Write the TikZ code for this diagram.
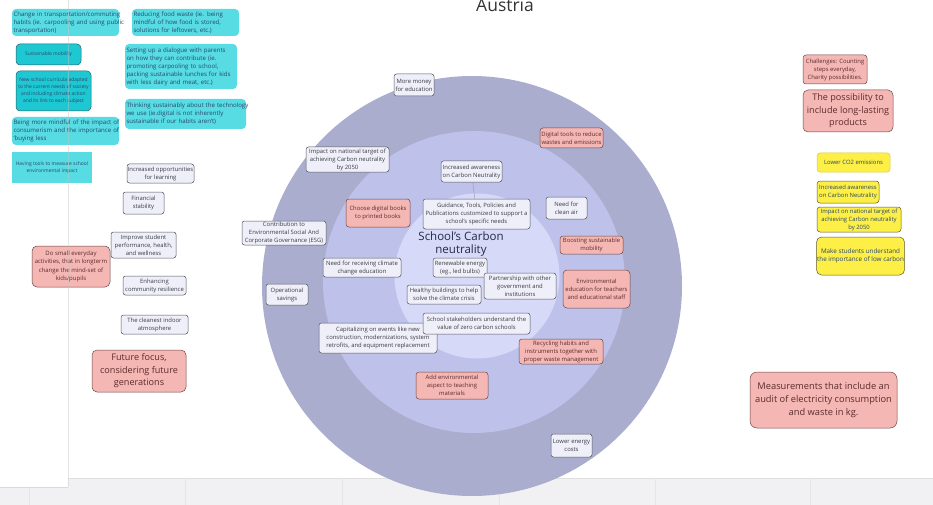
\documentclass[tikz,border=0pt]{standalone}
\usepackage{fontspec}
\setmainfont{Open Sans}
\definecolor{outerc}{HTML}{AAADCE}
\definecolor{midc}{HTML}{BEC2EA}
\definecolor{innerc}{HTML}{D6D9F8}
\definecolor{gfill}{HTML}{EEEFF8}
\definecolor{gline}{HTML}{555662}
\definecolor{gtext}{HTML}{3C3C44}
\definecolor{pfill}{HTML}{F5B7B4}
\definecolor{pline}{HTML}{6A4646}
\definecolor{ptext}{HTML}{5A2C2C}
\definecolor{cfill}{HTML}{56DCE2}
\definecolor{cdark}{HTML}{1EC8D2}
\definecolor{cline}{HTML}{2A6068}
\definecolor{ctext}{HTML}{28476E}
\definecolor{yfill}{HTML}{FDEF45}
\definecolor{yline}{HTML}{5E5A22}
\definecolor{navy}{HTML}{232B45}
\definecolor{barc}{HTML}{F1F1F3}
\newcommand{\lftlines}[1]{\begin{tabular}{@{}l@{}}#1\end{tabular}}
\tikzset{
  sz/.style 2 args={minimum width=#1pt, minimum height=#2pt},
  base/.style={inner sep=0.6pt, align=center, font=\fontsize{5.9}{8}\selectfont},
  gbox/.style={base, rounded corners=2.5pt, draw=gline, line width=0.5pt, fill=gfill, text=gtext},
  pbox/.style={base, rounded corners=3pt, draw=pline, line width=0.5pt, fill=pfill, text=ptext},
  bigp/.style={pbox, rounded corners=5pt, font=\fontsize{9.1}{12.5}\selectfont},
  cbox/.style={base, rounded corners=4pt, fill=cfill, text=ctext, align=left, inner xsep=1.2pt, font=\fontsize{6.1}{8}\selectfont},
  cdbox/.style={base, rounded corners=4pt, draw=cline, line width=0.5pt, fill=cdark, text=ctext, font=\fontsize{4.95}{7}\selectfont},
  ybox/.style={base, rounded corners=3pt, draw=yline, line width=0.5pt, fill=yfill, text=ctext}
}
\begin{document}
\begin{tikzpicture}[x=1pt,y=-1pt]
\useasboundingbox (0,0) rectangle (933,505);
% bottom bar
\fill[barc] (0,478) rectangle (933,505);
\draw[gray!25, line width=0.5pt] (0,478) -- (933,478);
\foreach \xx in {29,185,342,499,655,810} \draw[gray!20, line width=0.4pt] (\xx,478) -- (\xx,505);
% left panel
\fill[white] (0,0) rectangle (68,487);
\draw[gray!30, line width=0.5pt] (68,487) -- (0,487);
% title
\node[font=\fontsize{17.5}{18}\selectfont, text=black!80, anchor=base, inner sep=0pt] (title) at (505,12) {Austria};
% circles
\node[circle, fill=outerc, minimum size=420pt, inner sep=0pt] (outer) at (472,286) {};
\node[circle, fill=midc, minimum size=302pt, inner sep=0pt] (middle) at (474,282) {};
\node[circle, fill=innerc, minimum size=165pt, inner sep=0pt] (inner) at (477,276) {};
% cyan boxes
\node[cbox, sz={107}{27}, text width=104pt] (c1) at (65.5,22.5) {\lftlines{Change in transportation/commuting\\habits (ie. carpooling and using public\\transportation)}};
\node[cdbox, sz={65}{21}] (c2) at (48.5,54.5) {Sustainable mobility};
\node[cdbox, sz={75}{40}] (c3) at (53.5,91) {New school curricula adapted\\to the current needs of society\\and including climate action\\and its link to each subject};
\node[cbox, sz={107}{28}, text width=104pt] (c4) at (65.5,131) {\lftlines{Being more mindful of the impact of\\consumerism and the importance of\\`buying less}};
\node[base, fill=cfill, text=ctext, sz={80}{31}, font=\fontsize{4.95}{7}\selectfont] (c5) at (52,167.5) {Having tools to measure school\\environmental impact};
\node[cbox, sz={107}{27}, text width=104pt] (c6) at (185.5,22.5) {\lftlines{Reducing food waste (ie. being\\mindful of how food is stored,\\solutions for leftovers, etc.)}};
\node[cbox, sz={112}{45}, text width=109pt] (c7) at (181,66.5) {\lftlines{Setting up a dialogue with parents\\on how they can contribute (ie.\\promoting carpooling to school,\\packing sustainable lunches for kids\\with less dairy and meat, etc.)}};
\node[cbox, sz={121}{30}, text width=118pt] (c8) at (185.5,114) {\lftlines{Thinking sustainably about the technology\\we use (ie.digital is not inherently\\sustainable if our habits aren't)}};
% left gray / pink
\node[gbox, sz={67}{19}] (g9) at (160.5,173.5) {Increased opportunities\\for learning};
\node[gbox, sz={41}{22}] (g10) at (143.5,203) {Financial\\stability};
\node[gbox, sz={65}{26}] (g11) at (143.5,245) {Improve student\\performance, health,\\and wellness};
\node[pbox, sz={78}{41}, rounded corners=5pt, font=\fontsize{6}{8.2}\selectfont] (p12) at (71,266.5) {Do small everyday\\activities, that in longterm\\change the mind-set of\\kids/pupils};
\node[gbox, sz={63}{19}] (g13) at (154.5,285.5) {Enhancing\\community resilience};
\node[gbox, sz={67}{19}] (g14) at (154.5,324.5) {The cleanest indoor\\atmosphere};
\node[bigp, sz={94}{42}] (p15) at (139,371) {Future focus,\\considering future\\generations};
% circle nodes
\node[gbox, sz={40}{22}] (g16) at (414,85) {More money\\for education};
\node[gbox, sz={83}{25}] (g17) at (347.5,159.5) {Impact on national target of\\achieving Carbon neutrality\\by 2050};
\node[pbox, sz={64}{28}] (p18) at (378,213) {Choose digital books\\to printed books};
\node[gbox, sz={84}{24}] (g19) at (284,233) {Contribution to\\Environmental Social And\\Corporate Governance (ESG)};
\node[gbox, sz={61}{21}] (g20) at (471.5,171.5) {Increased awareness\\on Carbon Neutrality};
\node[gbox, sz={107}{30}] (g21) at (476.5,214) {Guidance, Tools, Policies and\\Publications customized to support a\\school's specific needs};
\draw[gline!60, line width=0.4pt] (g20) -- (g21);
\node[font=\fontsize{11.5}{13}\selectfont, text=navy, align=center, inner sep=0pt] (t22) at (461,244) {School's Carbon\\neutrality};
\node[gbox, sz={41}{22}] (g23) at (566.5,208) {Need for\\clean air};
\node[pbox, sz={63}{20}] (p24) at (571.5,138) {Digital tools to reduce\\wastes and emissions};
\node[pbox, sz={63}{18}] (p25) at (591.5,245) {Boosting sustainable\\mobility};
\node[pbox, sz={67}{38}, rounded corners=4pt] (p26) at (596.5,289) {Environmental\\education for teachers\\and educational staff};
\node[gbox, sz={54}{19}] (g27) at (460,267.5) {Renewable energy\\(eg., led bulbs)};
\node[gbox, sz={72}{26}] (g28) at (520,286) {Partnership with other\\government and\\institutions};
\node[gbox, sz={74}{19}] (g29) at (444,294.5) {Healthy buildings to help\\solve the climate crisis};
\node[gbox, sz={78}{19}] (g30) at (362,267.5) {Need for receiving climate\\change education};
\node[gbox, sz={42}{21}] (g31) at (287,294.5) {Operational\\savings};
\node[gbox, sz={118}{30}] (g33) at (378,338) {Capitalizing on events like new\\construction, modernizations, system\\retrofits, and equipment replacement};
\node[gbox, sz={107}{21}] (g32) at (476.5,323.5) {School stakeholders understand the\\value of zero carbon schools};
\node[pbox, sz={72}{27}] (p34) at (452,385.5) {Add environmental\\aspect to teaching\\materials};
\node[pbox, sz={84}{25}] (p35) at (561,351.5) {Recycling habits and\\instruments together with\\proper waste management};
\node[gbox, sz={41}{23}] (g36) at (571.5,445.5) {Lower energy\\costs};
% right side
\node[pbox, sz={64}{29}] (p37) at (835,69.5) {Challenges: Counting\\steps everyday,\\Charity possibilities.};
\node[bigp, sz={90}{42}] (p38) at (848,111) {The possibility to\\include long-lasting\\products};
\node[ybox, draw=yfill!85!black, sz={73}{19}] (y39) at (853.5,162.5) {Lower CO2 emissions};
\node[ybox, sz={62}{22}] (y40) at (848,192) {Increased awareness\\on Carbon Neutrality};
\node[ybox, sz={84}{25}] (y41) at (859,219.5) {Impact on national target of\\achieving Carbon neutrality\\by 2050};
\node[ybox, sz={87}{38}, rounded corners=5pt, font=\fontsize{6.3}{8.4}\selectfont] (y42) at (860.5,256) {Make students understand\\the importance of low carbon};
\node[bigp, sz={147}{56}, rounded corners=7pt, font=\fontsize{9.3}{12.6}\selectfont] (p43) at (823.5,400) {Measurements that include an\\audit of electricity consumption\\and waste in kg.};
% panel line on top
\draw[gray!45, opacity=0.45, line width=0.6pt] (68,0) -- (68,487);
\end{tikzpicture}
\end{document}
